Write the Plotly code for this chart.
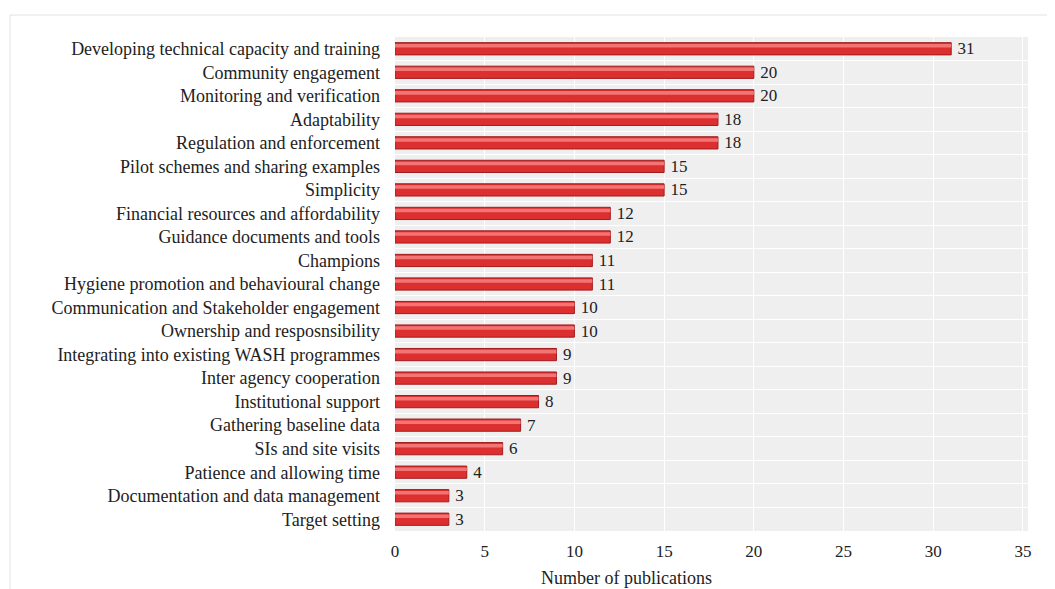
import plotly.graph_objects as go

categories = [
    "Developing technical capacity and training",
    "Community engagement",
    "Monitoring and verification",
    "Adaptability",
    "Regulation and enforcement",
    "Pilot schemes and sharing examples",
    "Simplicity",
    "Financial resources and affordability",
    "Guidance documents and tools",
    "Champions",
    "Hygiene promotion and behavioural change",
    "Communication and Stakeholder engagement",
    "Ownership and resposnsibility",
    "Integrating into existing WASH programmes",
    "Inter agency cooperation",
    "Institutional support",
    "Gathering baseline data",
    "SIs and site visits",
    "Patience and allowing time",
    "Documentation and data management",
    "Target setting",
]
publications = [31, 20, 20, 18, 18, 15, 15, 12, 12, 11, 11, 10, 10, 9, 9, 8, 7, 6, 4, 3, 3]
x_ticks = [0, 5, 10, 15, 20, 25, 30, 35]
x_title = "Number of publications"

FONT = "Liberation Serif"

fig = go.Figure()
fig.add_trace(go.Bar(
    y=categories, x=publications, orientation="h",
    marker=dict(color="#dc2f2f", line=dict(color="#a01c1e", width=1)),
    width=0.52,
    text=["\u2009" + str(v) for v in publications], textposition="outside",
    constraintext="none",
    textfont=dict(family=FONT, size=17, color="#222222"),
    cliponaxis=False, hoverinfo="skip", showlegend=False,
))
fig.add_trace(go.Bar(
    y=categories, x=publications, orientation="h",
    marker=dict(color="#f47474", line=dict(width=0)),
    width=0.15, offset=-0.2,
    hoverinfo="skip", showlegend=False,
))

# page body adds an 8px margin; compensate
PW = 1047 - 387 - 27
PH = 581 - 29 - 58
fig.update_layout(
    width=1047, height=581,
    barmode="overlay",
    margin=dict(l=387, r=27, t=29, b=58),
    paper_bgcolor="white",
    plot_bgcolor="#efefef",
    font=dict(family=FONT, size=17, color="#222222"),
    xaxis=dict(
        range=[0, 35.28], tickvals=x_ticks, showgrid=True, gridcolor="white", gridwidth=1,
        zeroline=False, showline=False, ticks="", automargin=False,
        tickfont=dict(family=FONT, size=17),
        ticklabelstandoff=8,
    ),
    yaxis=dict(
        autorange="reversed", tickson="boundaries", showgrid=True, gridcolor="white", gridwidth=1,
        ticks="", showline=False, tickfont=dict(family=FONT, size=18), automargin=False,
        ticklabelstandoff=14,
    ),
    annotations=[dict(text=x_title, xref="paper", yref="paper",
                      x=(626 - 395) / PW, y=-47 / PH, xanchor="center", yanchor="middle",
                      showarrow=False, font=dict(family=FONT, size=18, color="#222222"))],
    shapes=[dict(type="rect", xref="paper", yref="paper",
                 x0=-385 / PW, x1=1.2, y0=-0.3, y1=1 + 22 / PH,
                 line=dict(color="#e2e2e2", width=1), fillcolor="rgba(0,0,0,0)", layer="below")],
)

fig.write_html("out.html")
